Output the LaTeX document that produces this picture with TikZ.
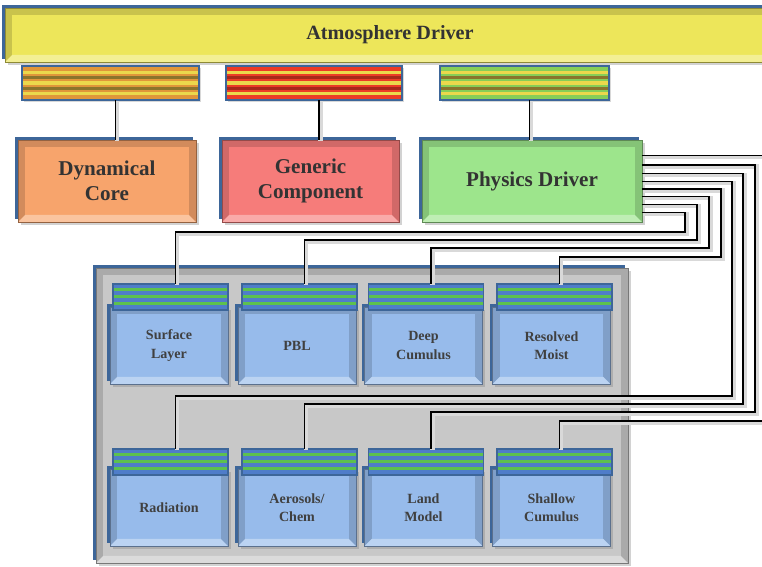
\documentclass[tikz,border=0pt]{standalone}
\usepackage{fontspec}
\setmainfont{Liberation Serif}
\usetikzlibrary{calc,shadows}

\definecolor{atmcol}{HTML}{EDE65A}
\definecolor{dyncol}{HTML}{F7A46C}
\definecolor{gencol}{HTML}{F67C7A}
\definecolor{phycol}{HTML}{9DE58C}
\definecolor{modcol}{HTML}{97BBEB}
\definecolor{panelcol}{HTML}{C8C8C8}
\definecolor{edgeblue}{HTML}{3D6699}
\definecolor{barblue}{HTML}{4F7DC9}
\definecolor{bargreen}{HTML}{5DC14E}
\definecolor{stripeyel}{HTML}{EBD84C}
\definecolor{stripeolive}{HTML}{8A742C}
\definecolor{barorange}{HTML}{E0963A}
\definecolor{barred}{HTML}{EC3B26}
\definecolor{bargrn}{HTML}{86CE58}

\tikzset{
  bevel/.style={fill=#1!85!black, draw=#1!60!black, line width=0.4pt,
    inner sep=0pt, outer sep=0pt,
    drop shadow={opacity=0.35,shadow xshift=1.5pt,shadow yshift=-1.5pt},
    preaction={fill=edgeblue, transform canvas={shift={(-1.6pt,1.6pt)}}},
    path picture={
      \fill[#1] ([shift={(4pt,-4pt)}]path picture bounding box.north west)
        rectangle ([shift={(-4pt,4pt)}]path picture bounding box.south east);
      \fill[#1!65!white] (path picture bounding box.south west)
        -- ([shift={(4pt,4pt)}]path picture bounding box.south west)
        -- ([shift={(-4pt,4pt)}]path picture bounding box.south east)
        -- (path picture bounding box.south east) -- cycle;
    }},
  bigbox/.style={bevel=#1, minimum height=1.64cm, align=center,
    font=\fontsize{12}{14.5}\selectfont\bfseries, text=black!80},
  modbox/.style={bevel=modcol, minimum width=2.36cm, minimum height=1.54cm,
    align=center, font=\fontsize{8}{10.5}\selectfont\bfseries, text=black!75},
  topbar/.style n args={3}{fill=#1, draw=edgeblue, line width=0.8pt,
    inner sep=0pt, outer sep=0pt, minimum height=0.68cm,
    drop shadow={opacity=0.3,shadow xshift=1pt,shadow yshift=-1pt},
    path picture={
      \foreach \f/\col in {0.18/#2,0.34/#3,0.5/#2,0.66/#3,0.82/#2}
        \draw[\col, line width=1.8pt]
          ($(path picture bounding box.north west)!\f!(path picture bounding box.south west)$)
          -- ($(path picture bounding box.north east)!\f!(path picture bounding box.south east)$);
    }},
  modbar/.style={fill=barblue, draw=edgeblue, line width=0.8pt,
    inner sep=0pt, outer sep=0pt, minimum width=2.3cm, minimum height=0.52cm,
    path picture={
      \foreach \f in {0.21,0.48,0.75}
        \draw[bargreen, line width=2.2pt]
          ($(path picture bounding box.north west)!\f!(path picture bounding box.south west)$)
          -- ($(path picture bounding box.north east)!\f!(path picture bounding box.south east)$);
    }},
  wire/.style={black, line width=0.7pt,
    preaction={draw=black!15, line width=2.4pt, transform canvas={shift={(0.8pt,-0.8pt)}}}}
}

\begin{document}
\begin{tikzpicture}[x=0.02cm,y=-0.02cm]
  \useasboundingbox (0,0) rectangle (762,566);
  \fill[white] (0,0) rectangle (762,566);

  % driver and its components
  \node[bevel=atmcol, minimum width=15.4cm, minimum height=1.08cm,
    font=\fontsize{11.5}{13}\selectfont\bfseries, text=black!80] (atm) at (390,35) {Atmosphere Driver};
  \node[topbar={barorange}{stripeyel}{stripeolive}, minimum width=3.54cm] (dynbar) at (110.5,83) {};
  \node[topbar={barred}{stripeyel}{barred!70!black}, minimum width=3.52cm] (genbar) at (314,83) {};
  \node[topbar={bargrn}{stripeyel}{stripeolive}, minimum width=3.38cm] (phybar) at (524.5,83) {};
  \node[bigbox=dyncol, minimum width=3.56cm] (dyn) at (107,181) {Dynamical\\Core};
  \node[bigbox=gencol, minimum width=3.54cm] (gen) at (310.5,181) {Generic\\Component};
  \node[bigbox=phycol, minimum width=4.4cm] (phy) at (532,181) {Physics Driver};

  % physics schemes
  \node[bevel=panelcol, minimum width=10.64cm, minimum height=5.9cm] (panel) at (362,415.5) {};
  \node[modbox] (sfc) at (169,345.5) {Surface\\Layer};
  \node[modbox] (pbl) at (297,345.5) {PBL};
  \node[modbox] (deep) at (423.5,345.5) {Deep\\Cumulus};
  \node[modbox] (moist) at (551.5,345.5) {Resolved\\Moist};
  \node[modbox] (rad) at (169,507.5) {Radiation};
  \node[modbox] (aero) at (297,507.5) {Aerosols/\\Chem};
  \node[modbox] (land) at (423.5,507.5) {Land\\Model};
  \node[modbox] (shallow) at (551.5,507.5) {Shallow\\Cumulus};
  \node[modbar] (sfcbar) at (170.5,297) {};
  \node[modbar] (pblbar) at (299.5,297) {};
  \node[modbar] (deepbar) at (426,297) {};
  \node[modbar] (moistbar) at (554.5,297) {};
  \node[modbar] (radbar) at (170.5,462) {};
  \node[modbar] (aerobar) at (299.5,462) {};
  \node[modbar] (landbar) at (426,462) {};
  \node[modbar] (shallowbar) at (554.5,462) {};

  % connectors
  \draw[wire] ($(dynbar.south)+(1mm,0)$) -- ($(dynbar.south |- dyn.north)+(1mm,0)$);
  \draw[wire] ($(genbar.south)+(1mm,0)$) -- ($(genbar.south |- gen.north)+(1mm,0)$);
  \draw[wire] ($(phybar.south)+(1mm,0)$) -- ($(phybar.south |- phy.north)+(1mm,0)$);
  \foreach \m/\ey/\vx/\hy in {sfcbar/212.7/685/232, pblbar/204.3/697/240,
      deepbar/196.7/709/248, moistbar/189/721/257, radbar/181.3/732/396,
      aerobar/173.3/743/404, landbar/165/755/412, shallowbar/155.7/768/421}
    \draw[wire] (phy.east |- 0,\ey) -| (\vx,\hy) -| ($(\m.north)+(1mm,0)$);
\end{tikzpicture}
\end{document}
